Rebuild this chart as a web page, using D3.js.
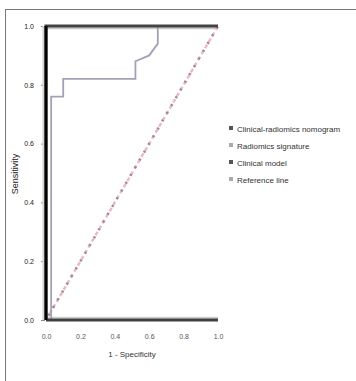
<!DOCTYPE html>
<html>
<head>
<meta charset="utf-8">
<script src="https://cdn.jsdelivr.net/npm/d3@7"></script>
<style>
  html, body { margin: 0; padding: 0; background: #fff; }
  svg { display: block; font-family: "Liberation Sans", Arial, sans-serif; }
</style>
</head>
<body>
<svg id="chart" width="356" height="381"></svg>
<script>
// ROC curves: sensitivity against 1 - specificity
const xTicks = [0, 0.2, 0.4, 0.6, 0.8, 1.0];
const yTicks = [0, 0.2, 0.4, 0.6, 0.8, 1.0];
const xTickLabels = ["0.0", "0.2", "0.4", "0.6", "0.8", "1.0"];
const yTickLabels = ["0.0", "0.2", "0.4", "0.6", "0.8", "1.0"];

const seriesNames = ["Clinical-radiomics nomogram", "Radiomics signature", "Clinical model", "Reference line"];
const markerColors = ["#555555", "#aaaaaa", "#555555", "#aaaaaa"];

// Perfect classifier curve
const combinedFpr = [0, 0, 1];
const combinedTpr = [0, 1, 1];
// Stepped curve
const radiomicsFpr = [0, 0.03, 0.03, 0.10, 0.10, 0.52, 0.52, 0.60, 0.65, 0.65, 1];
const radiomicsTpr = [0, 0, 0.76, 0.76, 0.82, 0.82, 0.88, 0.90, 0.94, 1, 1];
// Curve lying along the x axis
const clinicalFpr = [0, 1];
const clinicalTpr = [0, 0];
// Chance diagonal
const refFpr = [0, 1];
const refTpr = [0, 1];

const svg = d3.select("#chart");
const x = d3.scaleLinear().domain([0, 1]).range([46, 218]);
const y = d3.scaleLinear().domain([0, 1]).range([320, 26]);

// Outer figure frame
svg.append("rect")
  .attr("x", 5.5).attr("y", 9.5)
  .attr("width", 420).attr("height", 420)
  .attr("fill", "none").attr("stroke", "#777").attr("stroke-width", 1);

const line = d3.line().x(d => x(d[0])).y(d => y(d[1]));
const zipPts = (a, b) => a.map((v, i) => [v, b[i]]);

// Axes
const yAxis = d3.axisLeft(y).tickValues(yTicks).tickFormat((d, i) => yTickLabels[i]).tickSize(4).tickPadding(7);
const xAxis = d3.axisBottom(x).tickValues(xTicks).tickFormat((d, i) => xTickLabels[i]).tickSize(0).tickPadding(14);

const gy = svg.append("g").attr("transform", `translate(${x(0) - 1},0)`).call(yAxis);
gy.select(".domain").remove();
gy.selectAll(".tick line").attr("stroke", "#888");
gy.selectAll(".tick text").attr("font-size", 7).attr("fill", "#222");

const gx = svg.append("g").attr("transform", `translate(0,${y(0)})`).call(xAxis);
gx.select(".domain").remove();
gx.selectAll(".tick text").attr("font-size", 7).attr("fill", "#555");

// Light halo lines along the axes
svg.append("path").attr("d", line(zipPts([0, 1], [0.008, 0.008])))
  .attr("stroke", "#cfcfcf").attr("stroke-width", 2).attr("fill", "none");
svg.append("path").attr("d", line(zipPts([1, 0], [0.992, 0.992])))
  .attr("stroke", "#c8c8c8").attr("stroke-width", 2).attr("fill", "none");
svg.append("path").attr("d", line(zipPts([-0.015, -0.015], [0, 1])))
  .attr("stroke", "#d4d4d4").attr("stroke-width", 2).attr("fill", "none");

// Reference diagonal: pink dashes with grey dots between
svg.append("path").attr("d", line(zipPts(refFpr, refTpr)))
  .attr("stroke", "#eeb8c4").attr("stroke-width", 2.5).attr("fill", "none")
  .attr("stroke-dasharray", "4,3");
svg.append("path").attr("d", line(zipPts(refFpr, refTpr)))
  .attr("stroke", "#968a90").attr("stroke-width", 2.5).attr("fill", "none")
  .attr("stroke-dasharray", "2,7").attr("stroke-dashoffset", 4);

// Stepped curve
svg.append("path").attr("d", line(zipPts(radiomicsFpr, radiomicsTpr)))
  .attr("stroke", "#a2a2b6").attr("stroke-width", 1.8).attr("fill", "none");

// Curve along x axis
svg.append("path").attr("d", line(zipPts(clinicalFpr, clinicalTpr)))
  .attr("stroke", "#404040").attr("stroke-width", 3).attr("fill", "none");

// Perfect curve
svg.append("path").attr("d", line(zipPts(combinedFpr, combinedTpr)))
  .attr("stroke", "#444").attr("stroke-width", 3).attr("fill", "none");
svg.append("path").attr("d", line(zipPts([0, 0], [0, 1])))
  .attr("stroke", "#000").attr("stroke-width", 3).attr("fill", "none");

// Axis titles
svg.append("text").attr("x", 132).attr("y", 357).attr("text-anchor", "middle")
  .attr("font-size", 8).attr("fill", "#333").text("1 - Specificity");
svg.append("text").attr("transform", "translate(18,174) rotate(-90)")
  .attr("text-anchor", "middle").attr("font-size", 9).attr("fill", "#222").text("Sensitivity");

// Legend
const legend = svg.append("g").attr("transform", "translate(229,129)");
seriesNames.forEach((name, i) => {
  const g = legend.append("g").attr("transform", `translate(0,${i * 17})`);
  g.append("rect").attr("x", 0).attr("y", -3).attr("width", 4).attr("height", 4)
    .attr("fill", markerColors[i]);
  g.append("text").attr("x", 8).attr("y", 2.5).attr("font-size", 8)
    .attr("fill", "#333").text(name);
});
</script>
</body>
</html>
